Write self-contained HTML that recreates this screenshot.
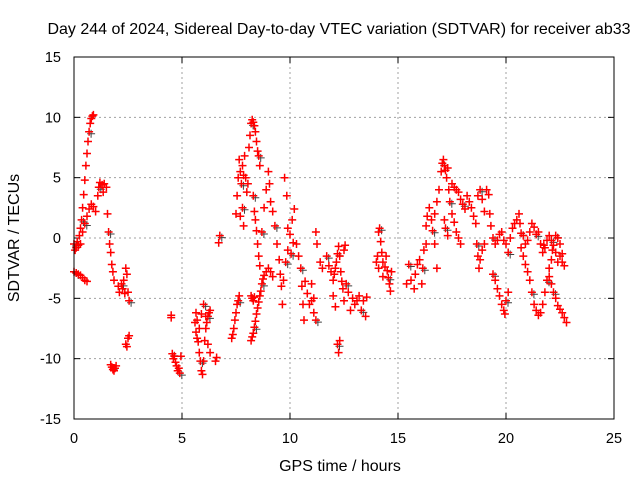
<!DOCTYPE html>
<html><head><meta charset="utf-8"><style>
body{margin:0;background:#fff}
svg{display:block;font-family:"Liberation Sans",sans-serif}
</style></head><body>
<svg id="chart" width="640" height="480" viewBox="0 0 640 480">
<text x="339" y="34" text-anchor="middle" font-size="16">Day 244 of 2024, Sidereal Day-to-day VTEC variation (SDTVAR) for receiver ab33</text>
<text transform="translate(19,238) rotate(-90)" text-anchor="middle" font-size="16">SDTVAR / TECUs</text>
<text x="340" y="471" text-anchor="middle" font-size="16">GPS time / hours</text>
<g id="grid"></g><g id="ticks"></g><g id="marks"></g>
<rect x="74" y="57" width="540" height="362" fill="none" stroke="#000" stroke-width="1"/>
</svg>
<script>
const xTicks=[0,5,10,15,20,25];
const yTicks=[-15,-10,-5,0,5,10,15];
const times=[0.0,0.05,0.1,0.15,0.2,0.25,0.3,0.35,0.4,0.45,0.5,0.55,0.6,0.65,0.7,0.75,0.8,0.85,0.9,
0.3,0.4,0.5,0.6,0.7,0.8,0.9,1.0,
0.0,0.1,0.2,0.3,0.4,0.5,0.6,
1.1,1.15,1.2,1.3,1.35,1.4,1.5,1.55,1.6,1.65,1.7,1.75,1.8,1.85,
1.7,1.75,1.8,1.85,1.9,1.95,
2.05,2.1,2.2,2.25,2.3,2.35,2.4,2.45,2.5,2.55,
2.4,2.45,2.5,2.55,
4.5,4.5,4.55,4.6,4.65,4.7,4.75,4.8,4.85,4.9,4.95,
5.6,5.65,5.7,5.75,5.8,5.85,5.9,5.95,6.0,6.05,6.1,6.15,6.2,6.25,6.3,5.65,5.7,5.8,5.9,6.0,6.1,6.2,6.3,
6.55,6.6,6.7,6.75,
7.3,7.35,7.4,7.45,7.5,7.55,7.6,7.65,
7.5,7.55,7.6,7.65,7.7,7.75,7.8,7.85,7.9,7.95,8.0,8.05,7.8,7.85,7.7,
8.2,8.25,8.3,8.35,
8.2,8.25,8.3,8.35,8.4,8.45,8.5,8.55,8.6,8.1,8.15,
8.2,8.25,8.3,8.35,8.4,8.45,8.5,8.55,8.6,8.65,8.7,8.75,8.8,8.9,9.0,9.1,9.2,
8.3,8.35,8.4,8.45,8.5,8.55,8.6,8.7,8.8,8.9,9.0,9.05,9.1,9.2,9.3,9.4,9.5,9.55,9.6,9.65,9.7,9.8,9.9,10.0,10.1,10.2,10.3,10.4,10.5,10.55,10.6,10.65,9.85,9.75,9.9,10.05,10.15,
10.7,10.8,10.9,11.0,11.1,11.2,11.1,11.0,11.2,11.25,11.4,11.5,11.7,11.8,11.9,12.0,12.05,12.1,12.15,12.2,12.25,12.3,12.35,12.4,12.45,12.5,12.2,12.25,12.3,12.0,12.1,12.5,12.55,12.6,12.7,12.8,12.9,13.0,13.1,13.2,13.3,13.4,13.5,13.55,
14.0,14.05,14.1,14.15,14.2,14.25,14.3,14.4,14.45,14.5,14.55,14.6,14.65,14.7,14.3,14.1,
15.4,15.5,15.6,15.75,15.8,15.9,16.0,16.1,16.15,16.2,16.3,16.3,16.35,16.45,16.55,16.6,16.7,16.8,16.7,16.8,16.9,17.0,17.05,17.1,17.15,17.2,17.25,17.3,17.35,17.4,17.5,17.6,17.7,17.8,17.9,17.15,17.2,17.3,17.5,17.6,17.7,17.8,17.9,18.0,18.1,18.2,18.3,18.4,18.5,18.6,18.65,18.7,18.75,18.8,18.9,19.0,18.7,18.8,18.9,19.0,19.1,19.2,19.25,19.3,19.4,19.5,19.6,19.7,19.8,19.9,20.0,20.1,20.2,20.3,20.4,20.5,20.6,20.65,20.7,20.8,20.9,21.0,21.1,21.2,21.3,21.4,21.5,21.6,21.7,21.8,21.9,22.0,22.1,22.2,22.3,22.4,22.5,22.6,22.7,
19.4,19.5,19.6,19.7,19.8,19.9,19.95,20.0,20.1,
20.7,20.8,20.9,21.0,21.1,21.2,21.3,21.4,21.5,21.6,21.7,21.8,21.9,22.0,22.1,22.15,21.75,
22.0,22.1,22.2,22.3,22.4,22.5,22.6,22.7,22.8,22.3,22.4,22.5,22.6];
const values=[-0.5,-1,-0.8,-0.3,-0.6,0.2,0.8,1.5,2.5,3.6,4.8,6,7,8,8.8,9.5,9.9,10.1,10.2,
-0.5,0.5,1.2,1.8,2.4,2.8,2.6,2.2,
-2.8,-2.9,-3,-3.1,-3.3,-3.5,-3.6,
3.5,4.2,4.6,4.4,3.8,4.5,4.2,2,0.5,-0.5,-1.2,-2.2,-2.8,-3.5,
-10.5,-10.7,-10.9,-11,-10.8,-10.6,
-4,-4.5,-3.8,-4.2,-3.5,-4.6,-2.5,-3,-4.5,-5.2,
-8.8,-9,-8.3,-8.1,
-6.4,-6.6,-9.6,-10,-9.8,-10.3,-10.6,-11,-10.8,-11.2,-9.8,
-7,-7.8,-8.3,-8.6,-9.5,-10.2,-11,-11.3,-10.2,-8.5,-7.5,-7,-6.5,-6.2,-6.0,-6.2,-6.8,-7.5,-6.3,-5.5,-6.5,-8.8,-9.5,
-10.2,-9.9,-0.4,0.2,
-8.3,-8,-7.5,-6.8,-6.2,-5.5,-5.2,-4.8,
2,3.5,5,6.5,5.5,4.5,6,5.2,6.8,5,3.8,4.5,2.5,1,1.8,
-4.8,-5,-5.2,-4.9,
9.5,9.8,9.6,9.3,8.8,8,7.2,6.8,6,7.5,8.5,
-8.5,-8.2,-7.9,-7.4,-6.9,-6.3,-5.8,-5.3,-4.8,-4.4,-3.8,-3.4,-3.1,-2.8,-2.5,-2.8,-3.2,
3.5,2.2,1.5,0.6,-0.5,-1.5,-2.3,0.5,2.5,4,5.5,4.5,3,2.2,1,-0.5,-1.8,-3,-4,-5.5,-3.5,-2,-1,0.3,1.5,2.4,-0.5,-1.5,-2.5,-4,-5.5,-6.8,3.5,5,0.8,-1.3,-0.4,
-3.6,-4.6,-5.5,-5.2,-6.2,-6.8,-5,-3.8,0.5,-0.5,-2,-2.5,-1.5,-2.3,-2.8,-3.5,-3,-2.5,-2,-1.3,-0.7,-1.5,-2.8,-3.6,-4.2,-5.2,-8.8,-9.5,-8.5,-4.8,-5.7,-1,-0.6,-3.8,-4.5,-6,-5,-5.5,-5.2,-4.8,-6,-5.2,-6.5,-4.9,
-2,-1.5,0.5,0.8,-0.3,-1.2,-2,-2.4,-1.5,-2.7,-3.3,-3.8,-4.4,-2.8,-3.2,-2.5,
-3.8,-2.2,-3.5,-4.2,-3,-2.2,-1.8,-3.8,-2.5,-1,-0.5,1,1.8,2.5,1.5,0.6,-0.5,-2.5,2,3,4,5.5,6.2,6.5,6,5.6,5,5.8,4,3,2,1.3,0.5,0,-0.5,1.5,0.8,0.2,4.5,4.2,4,3.8,3.2,2.8,2.4,3.5,3,2.5,1.8,1.2,-0.5,-1.5,-2.5,-1.8,-1,-0.5,3.5,4,3.2,2.2,4,3.6,2,1,0,-0.5,-0.2,0.3,0.5,-0.2,-0.5,-1.2,0,0.8,1.2,1.5,2,1.2,0.4,0.2,-0.5,-0.2,0.5,1.2,0.9,0.3,0.5,-0.5,-1.2,-0.8,-0.2,0.2,-0.2,-0.6,-1.2,-2,-1.5,-2,-2.3,
-3,-3.5,-4.2,-4.8,-5.5,-6,-6.3,-5.2,-4.5,
-0.8,-1.5,-2.2,-2.8,-3.5,-4.5,-5.5,-6,-6.4,-6.2,-5.5,-4.5,-3.5,-2.5,-1.8,-1,-0.6,
-3.2,-3.8,-4.5,-5,-5.6,-5.9,-6.2,-6.6,-7,0.2,0,-0.5,-1.3];
const NS='http://www.w3.org/2000/svg';
const X0=74,X1=614,Y0=419,Y1=57;
function xs(t){return X0+(t-0)/(25-0)*(X1-X0);}
function ys(v){return Y0-(v+15)/30*(Y0-Y1);}
const grid=document.getElementById('grid'),ticks=document.getElementById('ticks'),marks=document.getElementById('marks');
function mk(tag,a,parent){const e=document.createElementNS(NS,tag);for(const k in a)e.setAttribute(k,a[k]);parent.appendChild(e);return e;}
xTicks.forEach(t=>{const x=xs(t);
 if(t>0&&t<25){const g=mk('line',{x1:x,y1:Y1,x2:x,y2:Y0,stroke:'#a0a0a0','stroke-dasharray':'2,3'},grid);
 
 }
 mk('line',{x1:x,y1:Y0,x2:x,y2:Y0-6,stroke:'#000'},ticks);mk('line',{x1:x,y1:Y1,x2:x,y2:Y1+6,stroke:'#000'},ticks);
 const l=mk('text',{x:x,y:443,'text-anchor':'middle','font-size':'14.5'},ticks);l.textContent=t;
 
 });
yTicks.forEach(v=>{const y=ys(v);
 if(v>-15&&v<15){const g=mk('line',{x1:X0,y1:y,x2:X1,y2:y,stroke:'#a0a0a0','stroke-dasharray':'2,3'},grid);
 
 }
 mk('line',{x1:X0,y1:y,x2:X0+6,y2:y,stroke:'#000'},ticks);mk('line',{x1:X1,y1:y,x2:X1-6,y2:y,stroke:'#000'},ticks);
 const l=mk('text',{x:61,y:y+5,'text-anchor':'end','font-size':'14.5'},ticks);l.textContent=v;
 
 });
let d='';
for(let i=0;i<times.length;i++){const x=xs(times[i]),y=ys(values[i]);
 d+=`M${(x-4).toFixed(1)},${y.toFixed(1)}h8M${x.toFixed(1)},${(y-4).toFixed(1)}v8`;}
let d2='';
for(let i=0;i<times.length;i+=7){const x=xs(times[i])+2,y=ys(values[i])+2;
 d2+=`M${(x-4).toFixed(1)},${y.toFixed(1)}h8M${x.toFixed(1)},${(y-4).toFixed(1)}v8`;}
const p2=mk('path',{d:d2,stroke:'#404040','stroke-width':1,fill:'none'},marks);


const p=mk('path',{d:d,stroke:'#ff0000','stroke-width':1.5,fill:'none'},marks);


</script>
</body></html>
